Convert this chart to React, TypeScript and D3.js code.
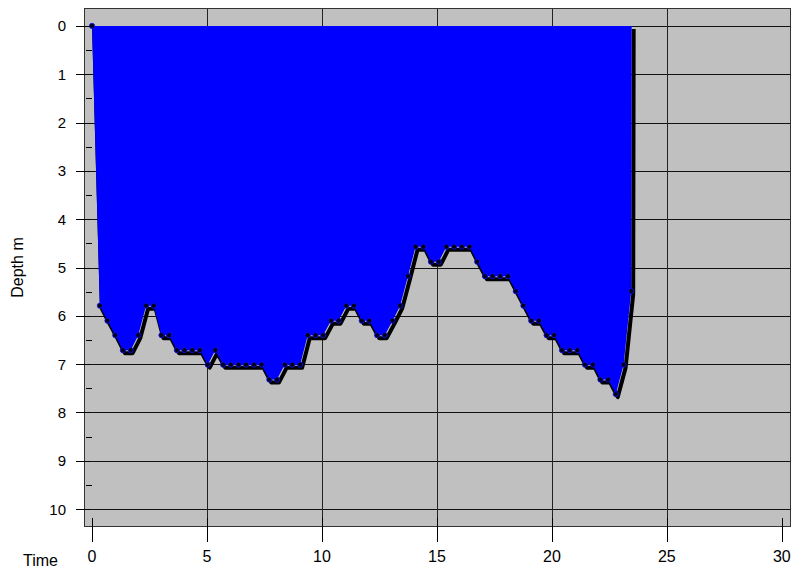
import React, { useEffect, useRef } from 'react';
import * as d3 from 'd3';

// dive profile: elapsed time vs depth (m)
const times = [
  0, 0.34, 0.67, 1.01, 1.34, 1.68, 2.01, 2.35, 2.68, 3.02, 3.35, 3.69, 4.02, 4.36, 4.69,
  5.03, 5.36, 5.70, 6.03, 6.37, 6.70, 7.04, 7.37, 7.71, 8.04, 8.38, 8.71, 9.05, 9.38, 9.72,
  10.05, 10.39, 10.72, 11.06, 11.39, 11.73, 12.06, 12.40, 12.73, 13.07, 13.40, 13.74, 14.07,
  14.41, 14.74, 15.08, 15.41, 15.75, 16.08, 16.42, 16.75, 17.09, 17.42, 17.76, 18.09, 18.43,
  18.76, 19.10, 19.43, 19.77, 20.10, 20.44, 20.77, 21.11, 21.44, 21.78, 22.11, 22.45, 22.78,
  23.12, 23.45, 23.47,
];
const depths = [
  0, 5.79, 6.10, 6.40, 6.71, 6.71, 6.40, 5.79, 5.79, 6.40, 6.40, 6.71, 6.71, 6.71, 6.71,
  7.01, 6.71, 7.01, 7.01, 7.01, 7.01, 7.01, 7.01, 7.32, 7.32, 7.01, 7.01, 7.01, 6.40, 6.40,
  6.40, 6.10, 6.10, 5.79, 5.79, 6.10, 6.10, 6.40, 6.40, 6.10, 5.79, 5.18, 4.57,
  4.57, 4.88, 4.88, 4.57, 4.57, 4.57, 4.57, 4.88, 5.18, 5.18, 5.18, 5.18, 5.49,
  5.79, 6.10, 6.10, 6.40, 6.40, 6.71, 6.71, 6.71, 7.01, 7.01, 7.32, 7.32, 7.62,
  7.01, 5.49, 0,
];
const xTicks = [0, 5, 10, 15, 20, 25, 30];
const xGrid = [5, 10, 15, 20, 25];
const yTicks = [0, 1, 2, 3, 4, 5, 6, 7, 8, 9, 10];
const yMinorTicks = [0.5, 1.5, 2.5, 3.5, 4.5, 5.5, 6.5, 7.5, 8.5, 9.5];

const W = 797;
const H = 571;
const FONT = '"Liberation Sans", Arial, sans-serif';

const App: React.FC = () => {
  const svgRef = useRef<SVGSVGElement>(null);

  useEffect(() => {
    if (!svgRef.current) return;
    const svg = d3.select(svgRef.current);
    svg.selectAll('*').remove();

    const margin = { top: 8, right: 6, bottom: 44, left: 84 };
    const x = d3.scaleLinear().domain([-0.35, 30.4]).range([margin.left, W - margin.right]);
    const y = d3.scaleLinear().domain([-0.37, 10.37]).range([margin.top, H - margin.bottom]);

    const data = times.map((t, i) => ({ t, d: depths[i] }));

    // plot background
    svg.append('rect')
      .attr('x', margin.left).attr('y', margin.top)
      .attr('width', W - margin.left - margin.right)
      .attr('height', H - margin.top - margin.bottom)
      .attr('fill', '#c0c0c0');

    // grid
    svg.append('g').selectAll('line').data(yTicks).join('line')
      .attr('x1', margin.left).attr('x2', W - margin.right)
      .attr('y1', d => Math.round(y(d)) + 0.5).attr('y2', d => Math.round(y(d)) + 0.5)
      .attr('stroke', '#111').attr('stroke-width', 1);
    svg.append('g').selectAll('line').data(xGrid).join('line')
      .attr('y1', margin.top).attr('y2', H - margin.bottom)
      .attr('x1', d => Math.round(x(d)) + 0.5).attr('x2', d => Math.round(x(d)) + 0.5)
      .attr('stroke', '#222').attr('stroke-width', 1);

    // shadow line
    const line = d3.line<{ t: number; d: number }>().x(p => x(p.t)).y(p => y(p.d));
    svg.append('path')
      .datum(data)
      .attr('d', line)
      .attr('fill', 'none')
      .attr('stroke', '#000')
      .attr('stroke-width', 4)
      .attr('stroke-linejoin', 'round')
      .attr('transform', 'translate(2,3)');

    // filled area
    const area = d3.area<{ t: number; d: number }>()
      .x(p => x(p.t)).y0(y(0)).y1(p => y(p.d));
    svg.append('path')
      .datum(data)
      .attr('d', area)
      .attr('fill', '#0000ff');

    // sample dots
    svg.append('g').selectAll('circle').data(data.slice(0, -1)).join('circle')
      .attr('cx', p => x(p.t)).attr('cy', p => y(p.d))
      .attr('r', 2.6)
      .attr('fill', '#000018')
      .attr('stroke', '#1010ff')
      .attr('stroke-width', 0.8);

    // frame
    svg.append('rect')
      .attr('x', margin.left + 0.5).attr('y', margin.top + 0.5)
      .attr('width', W - margin.left - margin.right - 1)
      .attr('height', H - margin.top - margin.bottom - 1)
      .attr('fill', 'none')
      .attr('stroke', '#333');

    // y ticks
    svg.append('g').selectAll('line').data(yTicks).join('line')
      .attr('x1', margin.left - 8).attr('x2', margin.left + 6)
      .attr('y1', d => Math.round(y(d)) + 0.5).attr('y2', d => Math.round(y(d)) + 0.5)
      .attr('stroke', '#000');
    svg.append('g').selectAll('line').data(yMinorTicks).join('line')
      .attr('x1', margin.left + 2).attr('x2', margin.left + 8)
      .attr('y1', d => Math.round(y(d)) + 0.5).attr('y2', d => Math.round(y(d)) + 0.5)
      .attr('stroke', '#000');
    svg.append('g').selectAll('text').data(yTicks).join('text')
      .attr('x', 66).attr('y', d => y(d) + 5.5)
      .attr('text-anchor', 'end')
      .attr('font-family', FONT).attr('font-size', 15)
      .text(d => d);

    // x ticks
    svg.append('g').selectAll('line').data(xTicks).join('line')
      .attr('x1', d => Math.round(x(d)) + 0.5).attr('x2', d => Math.round(x(d)) + 0.5)
      .attr('y1', H - margin.bottom - 9).attr('y2', H - margin.bottom + 15)
      .attr('stroke', '#000');
    svg.append('g').selectAll('text').data(xTicks).join('text')
      .attr('x', d => x(d)).attr('y', 562)
      .attr('text-anchor', 'middle')
      .attr('font-family', FONT).attr('font-size', 16)
      .text(d => d);

    // axis titles
    svg.append('text')
      .attr('x', 23).attr('y', 566)
      .attr('font-family', FONT).attr('font-size', 16)
      .text('Time');
    svg.append('text')
      .attr('transform', `translate(23,${(margin.top + H - margin.bottom) / 2}) rotate(-90)`)
      .attr('text-anchor', 'middle')
      .attr('font-family', FONT).attr('font-size', 16)
      .text('Depth m');
  }, []);

  return (
    <svg
      ref={svgRef}
      width={W}
      height={H}
      style={{ position: 'absolute', left: 0, top: 0, background: '#fff' }}
    />
  );
};

export default App;
